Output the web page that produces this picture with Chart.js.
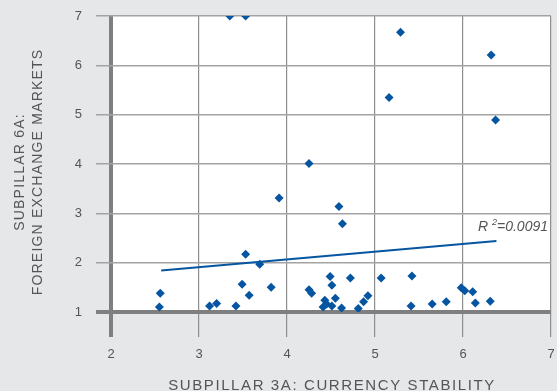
<!DOCTYPE html>
<html>
<head>
<meta charset="utf-8">
<script src="https://cdn.jsdelivr.net/npm/chart.js@4.4.1/dist/chart.umd.min.js"></script>
<style>
  html, body { margin: 0; padding: 0; background: #e6e7e9; }
  #wrap { width: 557px; height: 391px; position: relative; }
</style>
</head>
<body>
<div id="wrap"><canvas id="c"></canvas></div>
<script>
// Subpillar 3A (currency stability) vs subpillar 6A (foreign exchange markets)
const currencyStability = [
  3.35, 3.53, 5.29, 6.32, 5.16, 6.37, 4.25, 3.91, 4.59, 4.63,
  3.53, 3.69, 2.56, 2.55, 3.12, 3.20, 3.42, 3.49, 3.57, 3.82,
  4.25, 4.28, 4.49, 4.51, 4.72, 5.07, 5.42, 5.41, 4.43, 4.55,
  4.45, 4.41, 4.51, 4.62, 4.81, 4.87, 4.92, 5.65, 5.81, 5.98,
  6.02, 6.11, 6.14, 6.31
];
const foreignExchange = [
  7.00, 7.00, 6.67, 6.21, 5.35, 4.89, 4.01, 3.31, 3.14, 2.79,
  2.17, 1.97, 1.38, 1.10, 1.12, 1.17, 1.12, 1.56, 1.34, 1.50,
  1.45, 1.38, 1.72, 1.54, 1.69, 1.69, 1.73, 1.12, 1.24, 1.28,
  1.16, 1.10, 1.12, 1.08, 1.07, 1.21, 1.33, 1.16, 1.21, 1.49,
  1.43, 1.41, 1.18, 1.22
];
// Linear trend line end points
const trendX = [2.57, 6.38];
const trendY = [1.84, 2.44];
const rSquared = '0.0091';

const xTicks = [2, 3, 4, 5, 6, 7];
const yTicks = [1, 2, 3, 4, 5, 6, 7];
const xTitle = 'SUBPILLAR 3A: CURRENCY STABILITY';
const yTitle = ['SUBPILLAR 6A:', 'FOREIGN EXCHANGE MARKETS'];

const points = currencyStability.map((x, i) => ({ x, y: foreignExchange[i] }));
const trend = trendX.map((x, i) => ({ x, y: trendY[i] }));

const blue = '#0655a1';
const axisGrey = '#7f7f7f';
const textGrey = '#555555';
const family = '"Liberation Sans", Arial, sans-serif';

// White plot background
const plotBg = {
  id: 'plotBg',
  beforeDraw(chart) {
    const { ctx, chartArea: a } = chart;
    ctx.save();
    ctx.fillStyle = '#ffffff';
    ctx.fillRect(a.left, a.top, a.right - a.left, a.bottom - a.top);
    ctx.restore();
  }
};

// Letter-spaced axis titles
const axisTitles = {
  id: 'axisTitles',
  afterDraw(chart) {
    const { ctx, chartArea: a } = chart;
    ctx.save();
    ctx.fillStyle = textGrey;
    ctx.textBaseline = 'alphabetic';
    ctx.textAlign = 'center';
    // x title
    ctx.font = '15px ' + family;
    ctx.letterSpacing = '1.6px';
    ctx.fillText(xTitle, (a.left + a.right) / 2 + 1, 390);
    // y title, rotated
    ctx.font = '14px ' + family;
    ctx.letterSpacing = '1.2px';
    ctx.translate(0, 172);
    ctx.rotate(-Math.PI / 2);
    ctx.fillText(yTitle[0], 0, 24);
    ctx.fillText(yTitle[1], 0, 41.5);
    ctx.restore();
  }
};

// R² annotation beside the trend line
const rLabel = {
  id: 'rLabel',
  afterDatasetsDraw(chart) {
    const { ctx, chartArea: a } = chart;
    const right = a.right - 3;
    const y = 227;
    ctx.save();
    ctx.fillStyle = textGrey;
    ctx.textBaseline = 'middle';
    const main = 'italic 14px ' + family;
    const sup = 'italic 9px ' + family;
    ctx.font = main;
    const tail = '=' + rSquared;
    const wTail = ctx.measureText(tail).width;
    const wR = ctx.measureText('R ').width;
    ctx.font = sup;
    const wSup = ctx.measureText('2').width;
    let x = right - wTail - wSup - wR;
    ctx.font = main;
    ctx.textAlign = 'left';
    ctx.fillText('R ', x, y);
    x += wR;
    ctx.font = sup;
    ctx.fillText('2', x, y - 5);
    x += wSup;
    ctx.font = main;
    ctx.fillText(tail, x, y);
    ctx.restore();
  }
};

new Chart(document.getElementById('c'), {
  type: 'scatter',
  data: {
    datasets: [
      {
        data: points,
        pointStyle: 'rectRot',
        pointRadius: 4.5,
        pointHoverRadius: 4.5,
        backgroundColor: blue,
        borderColor: blue,
        borderWidth: 0,
        order: 1
      },
      {
        type: 'line',
        data: trend,
        borderColor: blue,
        borderWidth: 2,
        pointRadius: 0,
        fill: false,
        order: 2
      }
    ]
  },
  options: {
    responsive: true,
    maintainAspectRatio: false,
    animation: false,
    events: [],
    layout: { padding: { top: 16, right: 6, left: 0, bottom: 0 } },
    plugins: {
      legend: { display: false },
      tooltip: { enabled: false }
    },
    scales: {
      x: {
        type: 'linear',
        min: 2,
        max: 7,
        afterBuildTicks(scale) { scale.ticks = xTicks.map(v => ({ value: v })); },
        afterFit(scale) {
          scale.height = 79;
          scale.paddingLeft = 0;
          scale.paddingRight = 0;
        },
        border: { display: false },
        grid: {
          tickLength: 25,
          color: ctx => ctx.tick && ctx.tick.value === 2 ? axisGrey : '#8e8e8e',
          lineWidth: ctx => ctx.tick && ctx.tick.value === 2 ? 4 : 1.2
        },
        ticks: {
          padding: 10,
          color: textGrey,
          font: { family, size: 13 },
          maxRotation: 0
        }
      },
      y: {
        type: 'linear',
        min: 1,
        max: 7,
        afterBuildTicks(scale) { scale.ticks = yTicks.map(v => ({ value: v })); },
        afterFit(scale) {
          scale.width = 111;
          scale.paddingTop = 0;
          scale.paddingBottom = 0;
        },
        border: { display: false },
        grid: {
          tickLength: 15,
          color: ctx => ctx.tick && ctx.tick.value === 1 ? axisGrey : '#a3a3a3',
          lineWidth: ctx => ctx.tick && ctx.tick.value === 1 ? 4 : 1.5
        },
        ticks: {
          padding: 14,
          color: textGrey,
          font: { family, size: 13 }
        }
      }
    }
  },
  plugins: [plotBg, axisTitles, rLabel]
});
</script>
</body>
</html>
